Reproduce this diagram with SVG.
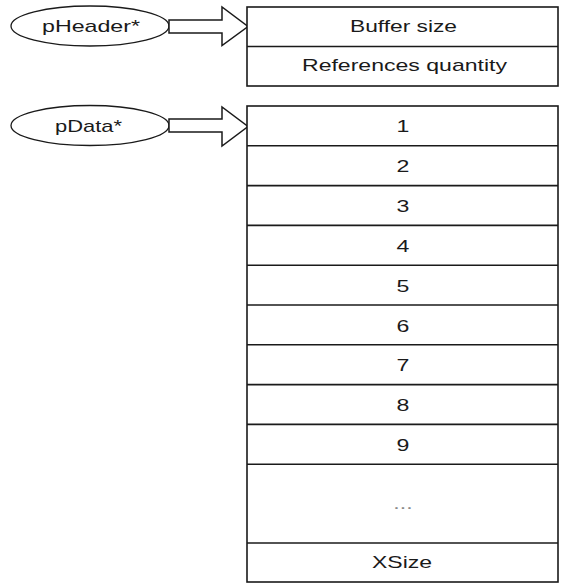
<svg xmlns="http://www.w3.org/2000/svg" width="561" height="584" viewBox="0 0 561 584">
  <style>
    .bg { fill: #ffffff; }
    .oval { fill: #ffffff; stroke: #1a1a1a; stroke-width: 1.3; }
    .cell { fill: #ffffff; stroke: #1a1a1a; stroke-width: 1.6; }
    .sep { stroke: #1a1a1a; stroke-width: 1.6; }
    .arrow { fill: #ffffff; stroke: #1a1a1a; stroke-width: 1.5; stroke-linejoin: miter; }
    .lbl { font-family: "Liberation Sans", Arial, sans-serif; font-size: 17px; fill: #1a1a1a; text-anchor: middle; }
    .dots { font-family: "Liberation Sans", Arial, sans-serif; font-size: 17px; fill: #8a8a8a; text-anchor: middle; }
  </style>
  <rect class="bg" x="0" y="0" width="561" height="584"/>

  <!-- pointer ovals -->
  <g id="pHeader">
    <ellipse class="oval" cx="90" cy="26" rx="79" ry="20"/>
    <text class="lbl" x="91" y="32" textLength="98" lengthAdjust="spacingAndGlyphs">pHeader*</text>
  </g>
  <g id="pData">
    <ellipse class="oval" cx="90" cy="125.5" rx="79" ry="20"/>
    <text class="lbl" x="88.5" y="132" textLength="67" lengthAdjust="spacingAndGlyphs">pData*</text>
  </g>

  <!-- block arrows from pointers to buffers -->
  <g id="connectors">
    <polygon class="arrow" points="169,20 222,20 222,7 248,26.5 222,45.5 222,33 169,33"/>
    <polygon class="arrow" points="169,119 222,119 222,107 248,126.5 222,146 222,132 169,132"/>
  </g>

  <!-- header block -->
  <g id="header">
    <rect class="cell" x="247" y="7" width="311" height="79"/>
    <line class="sep" x1="247" y1="46.5" x2="558" y2="46.5"/>
    <text class="lbl" x="403.5" y="32" textLength="107" lengthAdjust="spacingAndGlyphs">Buffer size</text>
    <text class="lbl" x="404.5" y="71" textLength="205" lengthAdjust="spacingAndGlyphs">References quantity</text>
  </g>

  <!-- data block -->
  <g id="data">
    <rect class="cell" x="247" y="106" width="311" height="476"/>
    <line class="sep" x1="247" y1="145.8" x2="558" y2="145.8"/>
    <line class="sep" x1="247" y1="185.6" x2="558" y2="185.6"/>
    <line class="sep" x1="247" y1="225.4" x2="558" y2="225.4"/>
    <line class="sep" x1="247" y1="265.2" x2="558" y2="265.2"/>
    <line class="sep" x1="247" y1="305" x2="558" y2="305"/>
    <line class="sep" x1="247" y1="344.8" x2="558" y2="344.8"/>
    <line class="sep" x1="247" y1="384.6" x2="558" y2="384.6"/>
    <line class="sep" x1="247" y1="424.4" x2="558" y2="424.4"/>
    <line class="sep" x1="247" y1="464.2" x2="558" y2="464.2"/>
    <line class="sep" x1="247" y1="543" x2="558" y2="543"/>
    <g transform="translate(403,0) scale(1.36,1)">
      <text class="lbl" x="0" y="132">1</text>
      <text class="lbl" x="0" y="172">2</text>
      <text class="lbl" x="0" y="212">3</text>
      <text class="lbl" x="0" y="252">4</text>
      <text class="lbl" x="0" y="292">5</text>
      <text class="lbl" x="0" y="332">6</text>
      <text class="lbl" x="0" y="371">7</text>
      <text class="lbl" x="0" y="411">8</text>
      <text class="lbl" x="0" y="451">9</text>
      <text class="dots" x="0" y="509">...</text>
    </g>
    <text class="lbl" x="402" y="568" textLength="60" lengthAdjust="spacingAndGlyphs">XSize</text>
  </g>
</svg>
